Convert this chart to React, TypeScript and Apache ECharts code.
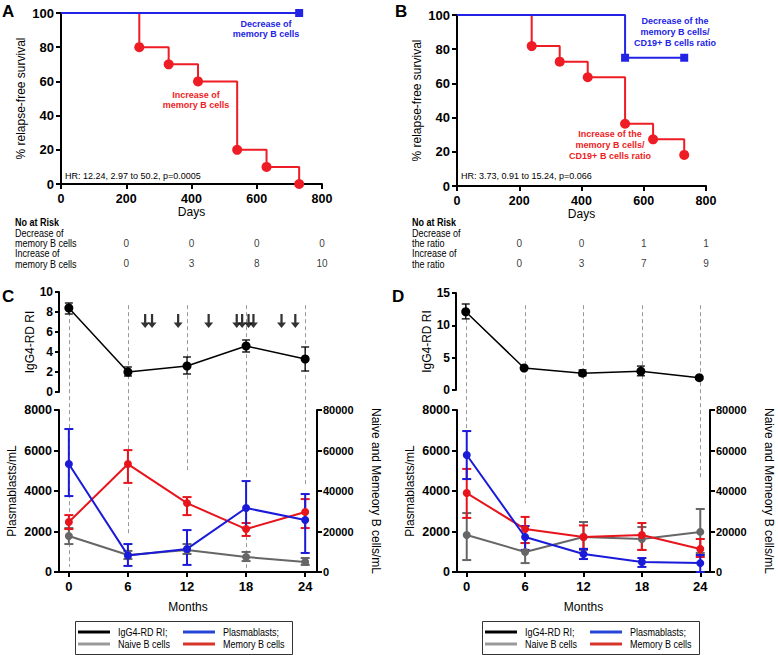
import React, { useEffect, useRef } from "react";
import * as echarts from "echarts";

// ---------- Panel A (Kaplan-Meier) ----------
const aIncDays = [0, 240, 330, 420, 540, 630, 730];
const aIncSurv = [100, 80, 70, 60, 20, 10, 0];
const aDecDays = [0, 730];
const aDecSurv = [100, 100];
// ---------- Panel B (Kaplan-Meier) ----------
const bIncDays = [0, 240, 330, 420, 540, 630, 730];
const bIncSurv = [100, 81.8, 72.7, 63.6, 36.4, 27.3, 18.2];
const bDecDays = [0, 540, 730];
const bDecSurv = [100, 75, 75];
// ---------- Numbers at risk ----------
const riskDays = [200, 400, 600, 800];
const riskADec = [0, 0, 0, 0];
const riskAInc = [0, 3, 8, 10];
const riskBDec = [0, 0, 1, 1];
const riskBInc = [0, 3, 7, 9];
// ---------- Panel C ----------
const months = [0, 6, 12, 18, 24];
const cRI = [8.4, 2.0, 2.6, 4.6, 3.3];
const cRILo = [7.8, 1.6, 1.8, 4.0, 2.1];
const cRIHi = [8.9, 2.5, 3.5, 5.2, 4.5];
const cPlasma = [5330, 820, 1140, 3160, 2570];
const cPlasmaLo = [3750, 300, 350, 2170, 940];
const cPlasmaHi = [7060, 1380, 2070, 4490, 3850];
const cMemory = [24700, 53300, 34000, 21200, 29600];
const cMemoryLo = [21200, 44000, 28100, 17800, 21700];
const cMemoryHi = [28100, 60200, 37000, 24200, 36000];
const cNaive = [17800, 8400, 10900, 7400, 4900];
const cNaiveLo = [13800, 6400, 8900, 5400, 3500];
const cNaiveHi = [21700, 10400, 13800, 9900, 6900];
const relapseMonths = [7.75, 8.45, 11.1, 14.2, 17.05, 17.6, 18.25, 18.75, 21.6, 23.0];
const cDashEnd = [250, 1900, 5000, 200, 4200];
// ---------- Panel D ----------
const dRI = [12.1, 3.4, 2.6, 2.9, 1.9];
const dRILo = [11.0, 3.2, 2.2, 2.2, 1.7];
const dRIHi = [13.3, 3.6, 3.1, 3.7, 2.1];
const dPlasma = [5780, 1730, 890, 490, 440];
const dPlasmaLo = [4590, 1090, 640, 250, 0];
const dPlasmaHi = [6960, 2270, 1140, 690, 840];
const dMemory = [39000, 21200, 17300, 18300, 11400];
const dMemoryLo = [26700, 14300, 11400, 10900, 7400];
const dMemoryHi = [50900, 27200, 23000, 24200, 16300];
const dNaive = [18300, 9900, 17300, 16300, 19800];
const dNaiveLo = [5900, 4400, 10900, 10900, 9400];
const dNaiveHi = [29100, 14300, 24700, 22200, 31100];
const dDashEnd = [6900, 3400, 2700, 2700, 4600];
const dashTop = 13200;
const arrowLevel = 7.1;

const legendNames = ["IgG4-RD RI;", "Plasmablasts;", "Naive B cells", "Memory B cells"];
const legendColors = ["#000000", "#2445d6", "#9a9a9a", "#d8352a"];

const FONT = '"Liberation Sans", Arial, Helvetica, sans-serif';
const NARROW_SCALE = 0.82;

const BLUE = "#1a1ad8";
const RED = "#e8141c";
const GRAY = "#666666";
const KM_BLUE = "#2323e6";
const KM_RED = "#ee1c24";

function axis(extra: any, label: any = {}) {
  return {
    type: "value",
    axisLine: { show: true, onZero: false, lineStyle: { color: "#000", width: 2 } },
    axisTick: { show: true, length: 5, lineStyle: { color: "#000", width: 2 } },
    axisLabel: {
      color: "#000",
      fontWeight: "bold",
      fontSize: 13,
      fontFamily: FONT,
      margin: 7,
      formatter: (v: number) => String(v),
      ...label,
    },
    splitLine: { show: false },
    nameLocation: "middle",
    nameTextStyle: { color: "#000", fontSize: 12, fontFamily: FONT },
    ...extra,
  };
}
function hidden(gridIndex: number, min: number, max: number) {
  return { type: "value", gridIndex, min, max, show: false };
}

function errBar(xi: number, yi: number, xs: number[], lo: number[], hi: number[], color: string, width: number, cap: number) {
  return {
    type: "custom",
    xAxisIndex: xi,
    yAxisIndex: yi,
    silent: true,
    z: 4,
    data: xs.map((x, i) => [x, lo[i], hi[i]]),
    encode: { x: 0, y: [1, 2] },
    renderItem: (params: any, api: any) => {
      const x = api.value(0);
      const p1 = api.coord([x, api.value(1)]);
      const p2 = api.coord([x, api.value(2)]);
      const st = { stroke: color, lineWidth: width };
      return {
        type: "group",
        children: [
          { type: "line", shape: { x1: p1[0], y1: p1[1], x2: p2[0], y2: p2[1] }, style: st },
          { type: "line", shape: { x1: p1[0] - cap, y1: p1[1], x2: p1[0] + cap, y2: p1[1] }, style: st },
          { type: "line", shape: { x1: p2[0] - cap, y1: p2[1], x2: p2[0] + cap, y2: p2[1] }, style: st },
        ],
      };
    },
  };
}

function lineS(name: string, xi: number, yi: number, ys: number[], color: string, width: number, size: number, z: number) {
  return {
    type: "line",
    name,
    xAxisIndex: xi,
    yAxisIndex: yi,
    data: months.map((m, i) => [m, ys[i]]),
    symbol: "circle",
    symbolSize: size,
    showSymbol: true,
    lineStyle: { color, width },
    itemStyle: { color },
    z,
  };
}

function kmS(xi: number, yi: number, days: number[], surv: number[], color: string, sym: string, size: number) {
  return {
    type: "line",
    xAxisIndex: xi,
    yAxisIndex: yi,
    step: "end",
    data: days.map((d, i) => (i === 0 ? { value: [d, surv[i]], symbol: "none" } : [d, surv[i]])),
    symbol: sym,
    symbolSize: size,
    showSymbol: true,
    showAllSymbol: true,
    lineStyle: { color, width: 2 },
    itemStyle: { color },
    z: 3,
  };
}

function riskS(xi: number, yi: number, dec: number[], inc: number[]) {
  const data: any[] = [];
  riskDays.forEach((d, i) => data.push([d, "dec", dec[i]]));
  riskDays.forEach((d, i) => data.push([d, "inc", inc[i]]));
  return {
    type: "scatter",
    xAxisIndex: xi,
    yAxisIndex: yi,
    symbolSize: 1,
    itemStyle: { color: "transparent" },
    silent: true,
    data,
    label: {
      show: true,
      position: "inside",
      formatter: (p: any) => String(p.value[2]),
      color: "#000",
      fontSize: 10,
      fontFamily: FONT,
    },
  };
}

function panelSeries(o: any) {
  return [
    {
      type: "lines",
      coordinateSystem: "cartesian2d",
      xAxisIndex: o.xOv,
      yAxisIndex: o.yOv,
      silent: true,
      z: 1,
      data: months.map((m, i) => ({ coords: [[m, dashTop], [m, o.dashEnd[i]]] })),
      lineStyle: { color: "#9a9a9a", width: 1, type: [4, 3], opacity: 1 },
    },
    errBar(o.xTop, o.yTop, months, o.riLo, o.riHi, "#000", 1.3, 4),
    lineS("IgG4-RD RI;", o.xTop, o.yTop, o.ri, "#000", 1.5, 9, 5),
    errBar(o.xBot, o.yR, months, o.naiLo, o.naiHi, GRAY, 2, 4.5),
    lineS("Naive B cells", o.xBot, o.yR, o.nai, GRAY, 2, 8, 5),
    errBar(o.xBot, o.yR, months, o.memLo, o.memHi, RED, 2, 4.5),
    lineS("Memory B cells", o.xBot, o.yR, o.mem, RED, 2, 8, 6),
    errBar(o.xBot, o.yL, months, o.plLo, o.plHi, BLUE, 2, 4.5),
    lineS("Plasmablasts;", o.xBot, o.yL, o.pl, BLUE, 2, 8, 7),
  ];
}

function txt(x: number, y: number, text: string, opts: any = {}) {
  const align = opts.align || "left";
  const valign = opts.valign || "middle";
  return {
    type: "text",
    x,
    y,
    scaleX: opts.scaleX || 1,
    silent: true,
    z: 10,
    style: {
      text,
      fill: opts.color || "#000",
      fontSize: opts.size || 11,
      fontWeight: opts.bold ? "bold" : "normal",
      fontFamily: FONT,
      lineHeight: opts.lineHeight,
      align,
      verticalAlign: valign,
      textAlign: align,
      textVerticalAlign: valign,
    },
  };
}

function legendGraphic(left: number) {
  const top = 621;
  const cols = [left + 3, left + 108];
  const rows = [top + 11, top + 23];
  const els: any[] = [
    {
      type: "rect",
      silent: true,
      z: 9,
      shape: { x: left + 0.5, y: top + 0.5, width: 217, height: 33 },
      style: { fill: "#fff", stroke: "#333", lineWidth: 1 },
    },
  ];
  const layout = [
    [0, 0],
    [1, 0],
    [0, 1],
    [1, 1],
  ];
  legendNames.forEach((n, i) => {
    const cx = cols[layout[i][0]];
    const cy = rows[layout[i][1]];
    els.push({
      type: "line",
      silent: true,
      z: 10,
      shape: { x1: cx, y1: cy, x2: cx + 32, y2: cy },
      style: { stroke: legendColors[i], lineWidth: 3 },
    });
    els.push(txt(cx + 40, cy, n, { size: 11, scaleX: NARROW_SCALE }));
  });
  return els;
}

export default function App() {
  const ref = useRef<HTMLDivElement>(null);
  useEffect(() => {
    if (!ref.current) return;
    const chart = echarts.init(ref.current, null, { renderer: "svg" });
    const botX = (gridIndex: number, max: number) =>
      axis(
        {
          gridIndex,
          min: -1,
          max,
          name: "Months",
          nameGap: 29,
          axisTick: { show: true, length: 5, customValues: months, lineStyle: { color: "#000", width: 2 } },
        },
        { customValues: months, margin: 8 }
      );
    const nr = { size: 11, scaleX: NARROW_SCALE };
    const option: any = {
      animation: false,
      backgroundColor: "#fff",
      grid: [
        { left: 61, top: 13, width: 261, height: 171 },
        { left: 457, top: 15, width: 249, height: 171 },
        { left: 59, top: 292, width: 256, height: 100 },
        { left: 59, top: 410, width: 258, height: 162 },
        { left: 456, top: 293, width: 253, height: 97 },
        { left: 457, top: 410, width: 253, height: 162 },
        { left: 59, top: 289, width: 258, height: 283 },
        { left: 457, top: 289, width: 253, height: 283 },
        { left: 61, top: 233, width: 261, height: 41 },
        { left: 457, top: 233, width: 249, height: 41 },
      ],
      xAxis: [
        axis({ gridIndex: 0, min: 0, max: 800, interval: 200, name: "Days", nameGap: 22 }, { fontSize: 12.5, margin: 8 }),
        axis({ gridIndex: 1, min: 0, max: 800, interval: 200, name: "Days", nameGap: 22 }, { fontSize: 12.5, margin: 8 }),
        hidden(2, -1, 25),
        botX(3, 25.2),
        hidden(4, -1, 25),
        botX(5, 25),
        hidden(6, -1, 25.2),
        hidden(7, -1, 25),
        hidden(8, 0, 800),
        hidden(9, 0, 800),
      ],
      yAxis: [
        axis({ gridIndex: 0, min: 0, max: 100, interval: 20, name: "% relapse-free survival", nameGap: 34 }),
        axis({ gridIndex: 1, min: 0, max: 100, interval: 20, name: "% relapse-free survival", nameGap: 34 }),
        axis({ gridIndex: 2, min: 0, max: 10, interval: 2, name: "IgG4-RD RI", nameGap: 19, axisTick: { show: true, length: 4, lineStyle: { color: "#000", width: 2 } } }, { fontSize: 12, margin: 6 }),
        axis({ gridIndex: 3, min: 0, max: 8000, interval: 2000, name: "Plasmablasts/mL", nameGap: 41 }, { fontSize: 12.5, margin: 7 }),
        axis({ gridIndex: 3, position: "right", min: 0, max: 80000, interval: 20000, name: "Naive and Memeory B cells/mL", nameRotate: -90, nameGap: 53 }, { fontSize: 11, margin: 6 }),
        axis({ gridIndex: 4, min: 0, max: 15, interval: 5, name: "IgG4-RD RI", nameGap: 22, axisTick: { show: true, length: 4, lineStyle: { color: "#000", width: 2 } } }, { fontSize: 12, margin: 6 }),
        axis({ gridIndex: 5, min: 0, max: 8000, interval: 2000, name: "Plasmablasts/mL", nameGap: 41 }, { fontSize: 12.5, margin: 7 }),
        axis({ gridIndex: 5, position: "right", min: 0, max: 80000, interval: 20000, name: "Naive and Memeory B cells/mL", nameRotate: -90, nameGap: 53 }, { fontSize: 11, margin: 6 }),
        hidden(6, 0, 14000),
        hidden(7, 0, 14000),
        { type: "category", gridIndex: 8, data: ["dec", "inc"], inverse: true, show: false },
        { type: "category", gridIndex: 9, data: ["dec", "inc"], inverse: true, show: false },
      ],
      series: [
        kmS(0, 0, aIncDays, aIncSurv, KM_RED, "circle", 10),
        kmS(0, 0, aDecDays, aDecSurv, KM_BLUE, "rect", 8),
        kmS(1, 1, bIncDays, bIncSurv, KM_RED, "circle", 10),
        kmS(1, 1, bDecDays, bDecSurv, KM_BLUE, "rect", 8),
        riskS(8, 10, riskADec, riskAInc),
        riskS(9, 11, riskBDec, riskBInc),
        ...panelSeries({
          xTop: 2, yTop: 2, xBot: 3, yL: 3, yR: 4, xOv: 6, yOv: 8,
          ri: cRI, riLo: cRILo, riHi: cRIHi,
          pl: cPlasma, plLo: cPlasmaLo, plHi: cPlasmaHi,
          mem: cMemory, memLo: cMemoryLo, memHi: cMemoryHi,
          nai: cNaive, naiLo: cNaiveLo, naiHi: cNaiveHi,
          dashEnd: cDashEnd,
        }),
        {
          type: "scatter",
          xAxisIndex: 2,
          yAxisIndex: 2,
          silent: true,
          z: 6,
          symbol: "path://M3,0 L5,0 L5,8 L8,8 L4,13 L0,8 L3,8 Z",
          symbolSize: [9, 14],
          itemStyle: { color: "#000" },
          data: relapseMonths.map((m) => [m, arrowLevel]),
        },
        ...panelSeries({
          xTop: 4, yTop: 5, xBot: 5, yL: 6, yR: 7, xOv: 7, yOv: 9,
          ri: dRI, riLo: dRILo, riHi: dRIHi,
          pl: dPlasma, plLo: dPlasmaLo, plHi: dPlasmaHi,
          mem: dMemory, memLo: dMemoryLo, memHi: dMemoryHi,
          nai: dNaive, naiLo: dNaiveLo, naiHi: dNaiveHi,
          dashEnd: dDashEnd,
        }),
      ],
      graphic: [
        txt(2, 3, "A", { size: 17, bold: true, valign: "top" }),
        txt(395, 3, "B", { size: 17, bold: true, valign: "top" }),
        txt(2, 288, "C", { size: 17, bold: true, valign: "top" }),
        txt(392, 288, "D", { size: 17, bold: true, valign: "top" }),
        txt(266, 29, "Decrease of\nmemory B cells", { size: 9, bold: true, color: KM_BLUE, align: "center", lineHeight: 10 }),
        txt(196, 100, "Increase of\nmemory B cells", { size: 9, bold: true, color: KM_RED, align: "center", lineHeight: 10 }),
        txt(65, 176, "HR: 12.24, 2.97 to 50.2, p=0.0005", { size: 9 }),
        txt(675, 32, "Decrease of the\nmemory B cells/\nCD19+ B cells ratio", { size: 9, bold: true, color: KM_BLUE, align: "center", lineHeight: 11 }),
        txt(610, 144.5, "Increase of the\nmemory B cells/\nCD19+ B cells ratio", { size: 9, bold: true, color: KM_RED, align: "center", lineHeight: 11 }),
        txt(461, 176, "HR: 3.73, 0.91 to 15.24, p=0.066", { size: 9 }),
        txt(15, 222, "No at Risk", { ...nr, bold: true }),
        txt(15, 233, "Decrease of", nr),
        txt(15, 243.5, "memory B cells", nr),
        txt(15, 253.5, "Increase of", nr),
        txt(15, 264, "memory B cells", nr),
        txt(412, 222, "No at Risk", { ...nr, bold: true }),
        txt(412, 233, "Decrease of", nr),
        txt(412, 243.5, "the ratio", nr),
        txt(412, 253.5, "Increase of", nr),
        txt(412, 264, "the ratio", nr),
        ...legendGraphic(75),
        ...legendGraphic(482),
      ],
    };
    chart.setOption(option);
    return () => chart.dispose();
  }, []);
  return (
    <div
      ref={ref}
      style={{ position: "absolute", left: 0, top: 0, width: 778, height: 655, background: "#fff" }}
    />
  );
}
